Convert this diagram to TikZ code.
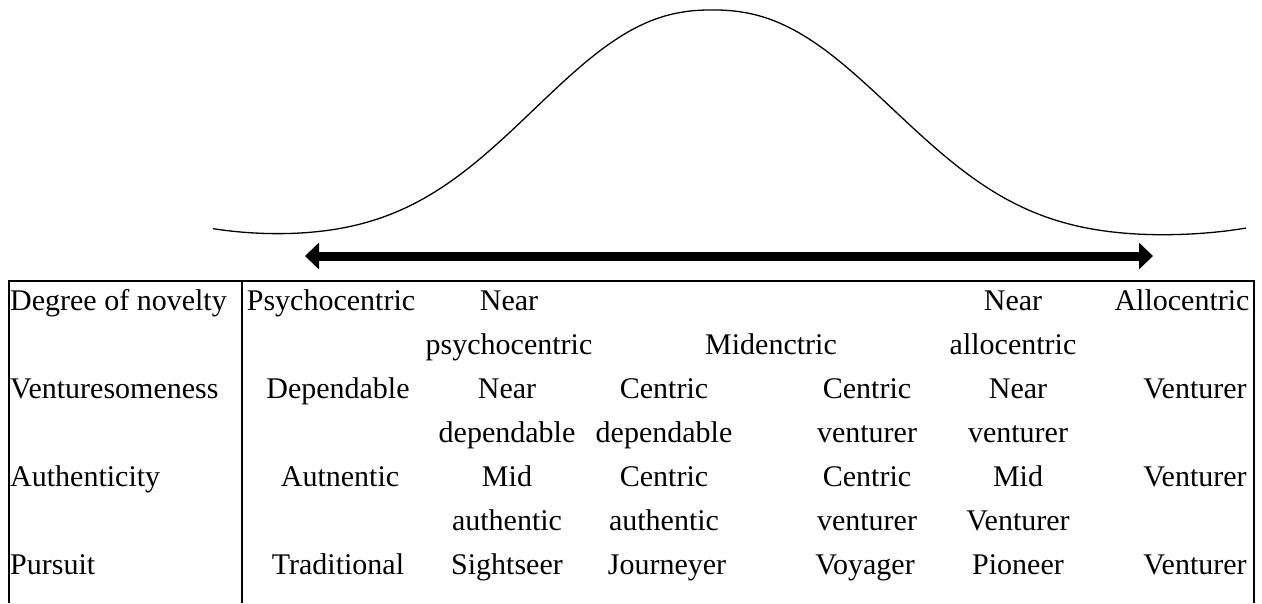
\documentclass[tikz,border=0pt]{standalone}
\usepackage{fontspec}
\setmainfont{Liberation Serif}
\usetikzlibrary{arrows.meta}
\tikzset{
  cell/.style    = {anchor=base, inner sep=0pt, align=center,
                    font=\fontsize{30}{44}\selectfont},
  rowhead/.style = {cell, anchor=base west, align=left},
  rule/.style    = {line width=2pt},
  curve/.style   = {line width=1.3pt, samples=120, variable=\x},
  spectrum/.style = {line width=9pt,
                    {Triangle[length=14pt,width=26pt]}-{Triangle[length=14pt,width=26pt]}}
}

\begin{document}
\begin{tikzpicture}[x=1pt,y=-1pt]
  \useasboundingbox (0,0) rectangle (1262,603);

  % bell curve, left and right half
  \draw[curve, domain=213:712]
    plot (\x, {240 - 230*exp(-1*pow(abs(\x-712)/228+0.0001,2.3)) - 11*pow((712-\x)/500,8)});
  \draw[curve, domain=712:1246]
    plot (\x, {240 - 230*exp(-1*pow(abs(\x-712)/232+0.0001,2.3)) - 11*pow((\x-712)/530,8)});

  % double arrow
  \coordinate (specL) at (305,256);
  \coordinate (specR) at (1153,256);
  \draw[spectrum] (specL) -- (specR);

  % table frame
  \coordinate (tl) at (9,281);   \coordinate (tr) at (1254,281);
  \coordinate (bl) at (9,603);   \coordinate (br) at (1254,603);
  \coordinate (dt) at (242,281); \coordinate (db) at (242,603);
  \draw[rule] (bl) -- (tl) -- (tr) -- (br);
  \draw[rule] (dt) -- (db);

  % degree of novelty (two-line cells sit on their second baseline)
  \node[rowhead] (novelty) at (10,310) {Degree of novelty};
  \node[cell] (psycho)     at (331,310) {Psychocentric};
  \node[cell] (nearpsycho) at (509,354) {Near\\psychocentric};
  \node[cell] (mid)        at (771,354) {Midenctric};
  \node[cell] (nearallo)   at (1013,354) {Near\\allocentric};
  \node[cell] (allo)       at (1182,310) {Allocentric};

  % venturesomeness
  \node[rowhead] (venture) at (10,398) {Venturesomeness};
  \node[cell] (dep)        at (338,398) {Dependable};
  \node[cell] (neardep)    at (507,442) {Near\\dependable};
  \node[cell] (centdep)    at (664,442) {Centric\\dependable};
  \node[cell] (centven)    at (867,442) {Centric\\venturer};
  \node[cell] (nearven)    at (1018,442) {Near\\venturer};
  \node[cell] (ven)        at (1195,398) {Venturer};

  % authenticity
  \node[rowhead] (authen) at (10,486) {Authenticity};
  \node[cell] (aut)        at (340,486) {Autnentic};
  \node[cell] (midaut)     at (507,530) {Mid\\authentic};
  \node[cell] (centaut)    at (664,530) {Centric\\authentic};
  \node[cell] (centven2)   at (867,530) {Centric\\venturer};
  \node[cell] (midven)     at (1018,530) {Mid\\Venturer};
  \node[cell] (ven2)       at (1195,486) {Venturer};

  % pursuit
  \node[rowhead] (pursuit) at (10,574) {Pursuit};
  \node[cell] (trad)       at (338,574) {Traditional};
  \node[cell] (sight)      at (507,574) {Sightseer};
  \node[cell] (journey)    at (667,574) {Journeyer};
  \node[cell] (voyage)     at (865,574) {Voyager};
  \node[cell] (pioneer)    at (1018,574) {Pioneer};
  \node[cell] (ven3)       at (1195,574) {Venturer};
\end{tikzpicture}
\end{document}
